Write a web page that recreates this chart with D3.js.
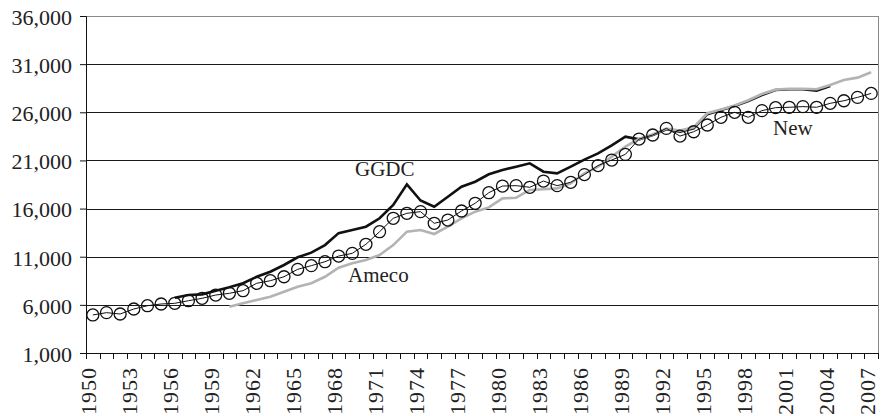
<!DOCTYPE html>
<html>
<head>
<meta charset="utf-8">
<script src="https://cdnjs.cloudflare.com/ajax/libs/d3/7.8.5/d3.min.js"></script>
<style>
  body { margin: 0; background: #fff; }
  svg text { font-family: "Liberation Serif", "Times New Roman", serif; fill: #222; }
</style>
</head>
<body>
<div id="graph"></div>
<script>
window.onload = start;

var width = 881;
var height = 416;
var margin = { top: 16, bottom: 63, left: 86, right: 3 };

// data
var years = d3.range(1950, 2008);
var yTicks = [1000, 6000, 11000, 16000, 21000, 26000, 31000, 36000];
var xLabelYears = years.filter(function (y) { return (y - 1950) % 3 === 0; });

var newValues = [4950, 5190, 5050, 5570, 5910, 6090, 6160, 6430, 6680, 7020,
  7200, 7470, 8240, 8510, 8920, 9690, 10070, 10480, 11070, 11350,
  12290, 13600, 14990, 15510, 15680, 14470, 14810, 15750, 16550, 17650,
  18340, 18380, 18210, 18860, 18380, 18730, 19530, 20470, 21040, 21630,
  23220, 23640, 24330, 23530, 23980, 24680, 25480, 26000, 25480, 26170,
  26480, 26520, 26590, 26520, 26930, 27200, 27550, 27960];

var ggdcStart = 1956;
var ggdcValues = [6740, 7020, 7090, 7470, 7820, 8240, 8920, 9440, 10140, 10940,
  11420, 12210, 13450, 13770, 14120, 14990, 16370, 18520, 16840, 16190,
  17230, 18270, 18790, 19560, 20010, 20350, 20700, 19830, 19660, 20350,
  21080, 21730, 22560, 23460, 23190, 23640, 24230, 23980, 24330, 25800,
  26240, 26650, 27170, 27800, 28310, 28390, 28390, 28240, 28730];

var amecoStart = 1960;
var amecoValues = [5810, 6160, 6500, 6850, 7370, 7890, 8240, 8920, 9850, 10320,
  10660, 11180, 12210, 13600, 13770, 13360, 14120, 14990, 15680, 16120,
  17060, 17130, 17930, 18000, 18100, 18620, 19660, 20350, 21390, 22430,
  23220, 23700, 24300, 24100, 24450, 25900, 26300, 26700, 27250, 27900,
  28350, 28450, 28450, 28400, 28830, 29350, 29600, 30150];

var labels = [
  { text: "GGDC", x: 355, y: 176 },
  { text: "Ameco", x: 348, y: 282 },
  { text: "New", x: 773, y: 135 }
];

function toPoints(start, values) {
  return values.map(function (v, i) {
    return { year: start + i, value: v };
  });
}

function start() {
  var svg = d3.select("#graph")
    .append("svg")
    .attr("width", width)
    .attr("height", height);

  var left = margin.left, right = width - margin.right;
  var top = margin.top, bottom = height - margin.bottom;

  var xScale = d3.scaleBand().domain(years).range([left, right]).padding(0);
  var yScale = d3.scaleLinear().domain([1000, 36000]).range([bottom, top]);

  function cx(d) { return xScale(d.year) + xScale.bandwidth() / 2; }

  // grid lines
  svg.append("g")
    .selectAll("line")
    .data(yTicks.slice(1))
    .enter()
    .append("line")
    .attr("x1", left).attr("x2", right)
    .attr("y1", function (d) { return Math.round(yScale(d)) + 0.5; })
    .attr("y2", function (d) { return Math.round(yScale(d)) + 0.5; })
    .attr("stroke", function (d) { return d === 36000 ? "#8a8a8a" : "#1a1a1a"; })
    .attr("stroke-width", 1);

  // right border of plot area
  svg.append("line")
    .attr("x1", right + 0.5).attr("x2", right + 0.5)
    .attr("y1", top).attr("y2", bottom)
    .attr("stroke", "#8a8a8a");

  // y axis
  var yAxis = svg.append("g")
    .attr("transform", "translate(" + left + ",0)")
    .call(d3.axisLeft(yScale)
      .tickValues(yTicks)
      .tickSize(6)
      .tickPadding(8)
      .tickFormat(d3.format(",")));
  yAxis.selectAll("text")
    .style("font-size", "22px")
    .attr("dy", "0.38em");
  yAxis.selectAll("line, path").attr("stroke", "#111");

  // x axis: ticks between categories, labels every third year
  var xAxis = svg.append("g")
    .attr("transform", "translate(0," + bottom + ")");
  xAxis.append("line")
    .attr("x1", left).attr("x2", right + 1)
    .attr("y1", 0.5).attr("y2", 0.5)
    .attr("stroke", "#111");
  xAxis.selectAll(".tick")
    .data(years.concat([2008]))
    .enter()
    .append("line")
    .attr("class", "tick")
    .attr("x1", function (d) { return d === 2008 ? right + 0.5 : Math.round(xScale(d)) + 0.5; })
    .attr("x2", function (d) { return d === 2008 ? right + 0.5 : Math.round(xScale(d)) + 0.5; })
    .attr("y1", 0).attr("y2", 6)
    .attr("stroke", "#111");
  xAxis.selectAll(".xlabel")
    .data(xLabelYears)
    .enter()
    .append("text")
    .attr("class", "xlabel")
    .attr("transform", function (d) {
      var x = xScale(d) + xScale.bandwidth() / 2 - 4;
      return "translate(" + x + ",14) rotate(-90)";
    })
    .attr("text-anchor", "end")
    .attr("dominant-baseline", "central")
    .style("font-size", "22px")
    .style("letter-spacing", "1px")
    .text(function (d) { return d; });

  var line = d3.line()
    .x(cx)
    .y(function (d) { return yScale(d.value); });

  var ggdc = toPoints(ggdcStart, ggdcValues);
  var ameco = toPoints(amecoStart, amecoValues);
  var newSeries = toPoints(1950, newValues);

  svg.append("path")
    .datum(ggdc)
    .attr("d", line)
    .attr("fill", "none")
    .attr("stroke", "#111")
    .attr("stroke-width", 2.6);

  svg.append("path")
    .datum(ameco)
    .attr("d", line)
    .attr("fill", "none")
    .attr("stroke", "#b3b3b3")
    .attr("stroke-width", 2.6);

  svg.append("path")
    .datum(newSeries)
    .attr("d", line)
    .attr("fill", "none")
    .attr("stroke", "#111")
    .attr("stroke-width", 1);

  svg.append("g")
    .selectAll("circle")
    .data(newSeries)
    .enter()
    .append("circle")
    .attr("cx", cx)
    .attr("cy", function (d) { return yScale(d.value); })
    .attr("r", 6)
    .attr("fill", "none")
    .attr("stroke", "#111")
    .attr("stroke-width", 1.3);

  // series names written inside the plot
  svg.append("g")
    .selectAll("text")
    .data(labels)
    .enter()
    .append("text")
    .attr("x", function (d) { return d.x; })
    .attr("y", function (d) { return d.y; })
    .style("font-size", "21px")
    .text(function (d) { return d.text; });
}
</script>
</body>
</html>
